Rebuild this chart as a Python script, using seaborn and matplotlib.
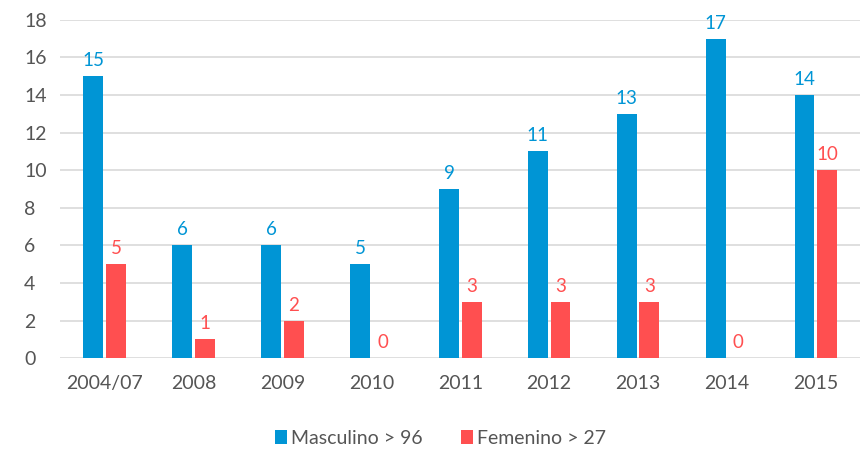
import pandas as pd
import seaborn as sns
import matplotlib.pyplot as plt

# datos
anios = ["2004/07", "2008", "2009", "2010", "2011", "2012", "2013", "2014", "2015"]
masculino = [15, 6, 6, 5, 9, 11, 13, 17, 14]
femenino = [5, 1, 2, 0, 3, 3, 3, 0, 10]
series = ["Masculino > 96", "Femenino > 27"]
colores = ["#0095D5", "#FF4F50"]

df = pd.DataFrame({
    "anio": anios * 2,
    "valor": masculino + femenino,
    "grupo": [series[0]] * len(anios) + [series[1]] * len(anios),
})

sns.set_style("white")
plt.rcParams["font.family"] = ["Lato", "DejaVu Sans"]

fig = plt.figure(figsize=(8.62, 4.5), dpi=100)
ax = fig.add_axes([0.07, 0.204, 0.928, 0.752])

sns.barplot(data=df, x="anio", y="valor", hue="grupo", palette=colores,
            width=0.51, gap=0.12, saturation=1, linewidth=0, ax=ax, legend=True)

# etiquetas de valor
for cont, col in zip(ax.containers, colores):
    ax.bar_label(cont, padding=5, color=col, fontsize=13.5)

ax.set_ylim(0, 18)
ax.set_yticks(range(0, 19, 2))
ax.set_xlim(-0.5, len(anios) - 0.5)
ax.yaxis.grid(True, color="#d9d9d9", linewidth=1.2)
ax.set_axisbelow(True)
ax.set_xlabel("")
ax.set_ylabel("")
sns.despine(ax=ax, left=True, bottom=True, top=True, right=True)
ax.tick_params(axis="both", length=0, labelsize=14, colors="#555555")
ax.tick_params(axis="x", pad=12)
ax.tick_params(axis="y", pad=26)
for lab in ax.get_yticklabels():
    lab.set_horizontalalignment("left")

ax.legend(loc="upper center", bbox_to_anchor=(0.475, -0.16), ncol=2, frameon=False,
          fontsize=14, handlelength=0.6, handleheight=0.7, handletextpad=0.2,
          columnspacing=2.0, labelcolor="#555555")

plt.savefig("out.png", dpi=100)
